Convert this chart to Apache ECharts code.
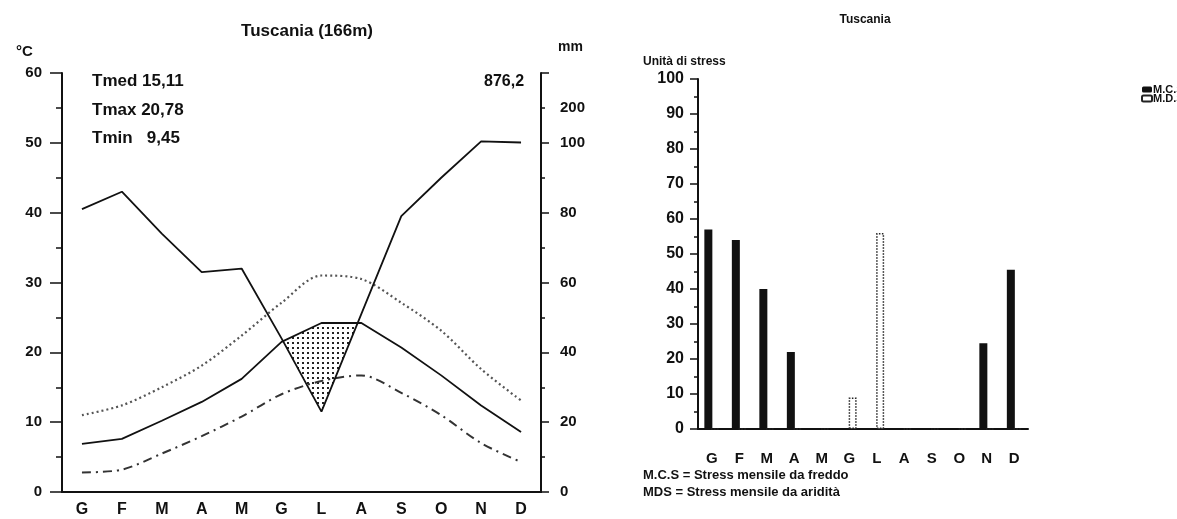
<!DOCTYPE html>
<html>
<head>
<meta charset="utf-8">
<title>Tuscania</title>
<script src="https://cdn.jsdelivr.net/npm/echarts@6/dist/echarts.min.js"></script>
<style>
  html, body { margin: 0; padding: 0; background: #fff; }
  #main { width: 1177px; height: 519px; }
</style>
</head>
<body>
<div id="main"></div>
<script>
  // mesi (iniziali italiane)
  var months = ['G', 'F', 'M', 'A', 'M', 'G', 'L', 'A', 'S', 'O', 'N', 'D'];

  // diagramma termo-pluviometrico
  var precipMm = [81, 86, 74, 63, 64, 44, 23, 51, 79, 90, 104, 101];
  var tMed = [6.9, 7.6, 10.2, 12.9, 16.2, 21.5, 24.2, 24.2, 20.7, 16.7, 12.4, 8.6];
  var tMax = [11.0, 12.4, 15.0, 18.1, 22.4, 27.1, 31.0, 30.5, 27.1, 23.1, 17.6, 13.1];
  var tMin = [2.8, 3.2, 5.5, 8.0, 10.8, 14.0, 15.9, 16.7, 14.2, 11.0, 7.0, 4.3];
  var precipTicks = [0, 20, 40, 60, 80, 100, 200];

  // unita di stress
  var mcs = [57, 54, 40, 22, 0, 0, 0, 0, 0, 0, 24.5, 45.5];
  var mds = [0, 0, 0, 0, 0, 9, 56, 0, 0, 0, 0, 0];

  // scala di Walter-Lieth: 1 °C = 2 mm fino a 100 mm, poi 1 °C = 20 mm
  function mmToScale(v) {
    return v <= 100 ? v / 2 : 50 + (v - 100) / 20;
  }
  function scaleToMm(v) {
    return v <= 50 ? v * 2 : 100 + (v - 50) * 20;
  }
  var precipScaled = precipMm.map(mmToScale);

  // poligono del periodo arido (temperatura sopra la curva delle piogge)
  function aridPolygons() {
    var polys = [];
    var upper = [], lower = [];
    for (var i = 0; i < months.length; i++) {
      var d = tMed[i] - precipScaled[i];
      if (d > 0) {
        upper.push([i, tMed[i]]);
        lower.push([i, precipScaled[i]]);
      }
      if (i < months.length - 1) {
        var d2 = tMed[i + 1] - precipScaled[i + 1];
        if ((d > 0) !== (d2 > 0)) {
          var t = d / (d - d2);
          var x = i + t;
          var y = tMed[i] + (tMed[i + 1] - tMed[i]) * t;
          upper.push([x, y]);
          lower.push([x, y]);
          if (d > 0) {
            polys.push(upper.concat(lower.reverse()));
            upper = [];
            lower = [];
          }
        }
      }
    }
    if (upper.length) polys.push(upper.concat(lower.reverse()));
    return polys;
  }

  // trama a puntini
  var dots = document.createElement('canvas');
  dots.width = 5;
  dots.height = 5;
  var dctx = dots.getContext('2d');
  dctx.fillStyle = '#222';
  dctx.fillRect(2, 2, 2, 2);

  var font = 'Liberation Sans';
  var ink = '#111';

  var chart = echarts.init(document.getElementById('main'));
  chart.setOption({
    backgroundColor: '#fff',
    animation: false,
    textStyle: { fontFamily: font, color: ink },
    title: [
      {
        text: 'Tuscania (166m)',
        left: 302, top: 18, textAlign: 'center',
        textStyle: { fontFamily: font, fontSize: 17, fontWeight: 'bold', color: ink }
      },
      {
        text: 'Tuscania',
        left: 860, top: 9, textAlign: 'center',
        textStyle: { fontFamily: font, fontSize: 12, fontWeight: 'bold', color: ink }
      }
    ],
    legend: {
      orient: 'vertical',
      left: 1141, top: 84, padding: 0,
      itemGap: -2, itemWidth: 10, itemHeight: 6,
      data: ['M.C.S.', 'M.D.S.'],
      textStyle: { fontFamily: font, fontSize: 11, lineHeight: 8, fontWeight: 'bold', color: ink, padding: [0, 0, 0, -4] }
    },
    grid: [
      { left: 62, top: 73, width: 479, height: 419 },
      { left: 698, top: 79, width: 330, height: 350 }
    ],
    xAxis: [
      {
        type: 'category', gridIndex: 0, data: months, boundaryGap: true,
        axisLine: { lineStyle: { color: ink, width: 2 } },
        axisTick: { alignWithLabel: true, inside: true, length: 8, lineStyle: { color: ink, width: 1.5 } },
        axisLabel: { color: ink, fontSize: 16, fontWeight: 'bold', margin: 10, interval: 0 }
      },
      { type: 'value', gridIndex: 0, min: -0.5, max: 11.5, show: false },
      {
        type: 'category', gridIndex: 1, data: months, boundaryGap: true,
        axisLine: { lineStyle: { color: ink, width: 2 } },
        axisTick: { alignWithLabel: true, length: 6, lineStyle: { color: ink, width: 1.5 } },
        axisLabel: { color: ink, fontSize: 15, fontWeight: 'bold', margin: 22, interval: 0 }
      }
    ],
    yAxis: [
      {
        type: 'value', gridIndex: 0, position: 'left', min: 0, max: 60, interval: 10,
        axisLine: { show: true, onZero: false, lineStyle: { color: ink, width: 2 } },
        axisTick: { show: true, length: 12, lineStyle: { color: ink, width: 1.5 } },
        minorTick: { show: true, splitNumber: 2, length: 6, lineStyle: { color: ink, width: 1.5 } },
        splitLine: { show: false },
        axisLabel: { color: ink, fontSize: 15, fontWeight: 'bold', margin: 20 }
      },
      {
        type: 'value', gridIndex: 0, position: 'right', min: 0, max: 60, interval: 10,
        axisLine: { show: true, onZero: false, lineStyle: { color: ink, width: 2 } },
        axisTick: { show: true, length: 8, lineStyle: { color: ink, width: 1.5 } },
        minorTick: { show: true, splitNumber: 2, length: 4, lineStyle: { color: ink, width: 1.5 } },
        splitLine: { show: false },
        axisLabel: {
          color: ink, fontSize: 15, fontWeight: 'bold', margin: 19,
          customValues: precipTicks.map(mmToScale),
          formatter: function (v) { return String(Math.round(scaleToMm(v))); }
        }
      },
      {
        type: 'value', gridIndex: 1, position: 'left', min: 0, max: 100, interval: 10,
        axisLine: { show: true, onZero: false, lineStyle: { color: ink, width: 2 } },
        axisTick: { show: true, length: 8, lineStyle: { color: ink, width: 1.5 } },
        minorTick: { show: true, splitNumber: 2, length: 4, lineStyle: { color: ink, width: 1.5 } },
        splitLine: { show: false },
        axisLabel: { color: ink, fontSize: 16, fontWeight: 'bold', margin: 14 }
      }
    ],
    graphic: [
      { type: 'text', left: 16, top: 44, style: { text: '°C', font: 'bold 15px ' + font, fill: ink } },
      { type: 'text', left: 558, top: 40, style: { text: 'mm', font: 'bold 14px ' + font, fill: ink } },
      { type: 'text', left: 92, top: 73, style: { text: 'Tmed 15,11', font: 'bold 17px ' + font, fill: ink } },
      { type: 'text', left: 92, top: 102, style: { text: 'Tmax 20,78', font: 'bold 17px ' + font, fill: ink } },
      { type: 'text', left: 92, top: 130, style: { text: 'Tmin   9,45', font: 'bold 17px ' + font, fill: ink } },
      { type: 'text', left: 484, top: 74, style: { text: '876,2', font: 'bold 16px ' + font, fill: ink } },
      { type: 'text', left: 643, top: 56, style: { text: 'Unità di stress', font: 'bold 12px ' + font, fill: ink } },
      { type: 'text', left: 643, top: 469, style: { text: 'M.C.S = Stress mensile da freddo', font: 'bold 13px ' + font, fill: ink } },
      { type: 'text', left: 643, top: 486, style: { text: 'MDS = Stress mensile da aridità', font: 'bold 13px ' + font, fill: ink } }
    ],
    series: [
      {
        name: 'arido', type: 'custom', xAxisIndex: 1, yAxisIndex: 0,
        data: [0], silent: true, z: 1,
        renderItem: function (params, api) {
          var children = aridPolygons().map(function (poly) {
            return {
              type: 'polygon',
              shape: { points: poly.map(function (p) { return api.coord(p); }) },
              style: { fill: { type: 'pattern', image: dots, repeat: 'repeat' }, stroke: null }
            };
          });
          return { type: 'group', children: children };
        }
      },
      {
        name: 'Tmax', type: 'line', xAxisIndex: 0, yAxisIndex: 0, data: tMax,
        showSymbol: false, smooth: 0.3, z: 3,
        lineStyle: { color: '#555', width: 2.2, type: [2, 3] }
      },
      {
        name: 'Tmed', type: 'line', xAxisIndex: 0, yAxisIndex: 0, data: tMed,
        showSymbol: false, z: 3,
        lineStyle: { color: ink, width: 1.8 }
      },
      {
        name: 'Tmin', type: 'line', xAxisIndex: 0, yAxisIndex: 0, data: tMin,
        showSymbol: false, smooth: 0.3, z: 3,
        lineStyle: { color: '#333', width: 2, type: [9, 5, 2, 5] }
      },
      {
        name: 'Precipitazioni', type: 'line', xAxisIndex: 0, yAxisIndex: 1, data: precipScaled,
        showSymbol: false, z: 4,
        lineStyle: { color: ink, width: 1.8 }
      },
      {
        name: 'M.C.S.', type: 'bar', xAxisIndex: 2, yAxisIndex: 2, data: mcs,
        barWidth: 8, barGap: '-15%',
        itemStyle: { color: ink }
      },
      {
        name: 'M.D.S.', type: 'bar', xAxisIndex: 2, yAxisIndex: 2, data: mds,
        barWidth: 8,
        itemStyle: { color: '#fff', borderColor: '#222', borderWidth: 1.5, borderType: 'dotted' }
      }
    ]
  });
</script>
</body>
</html>
